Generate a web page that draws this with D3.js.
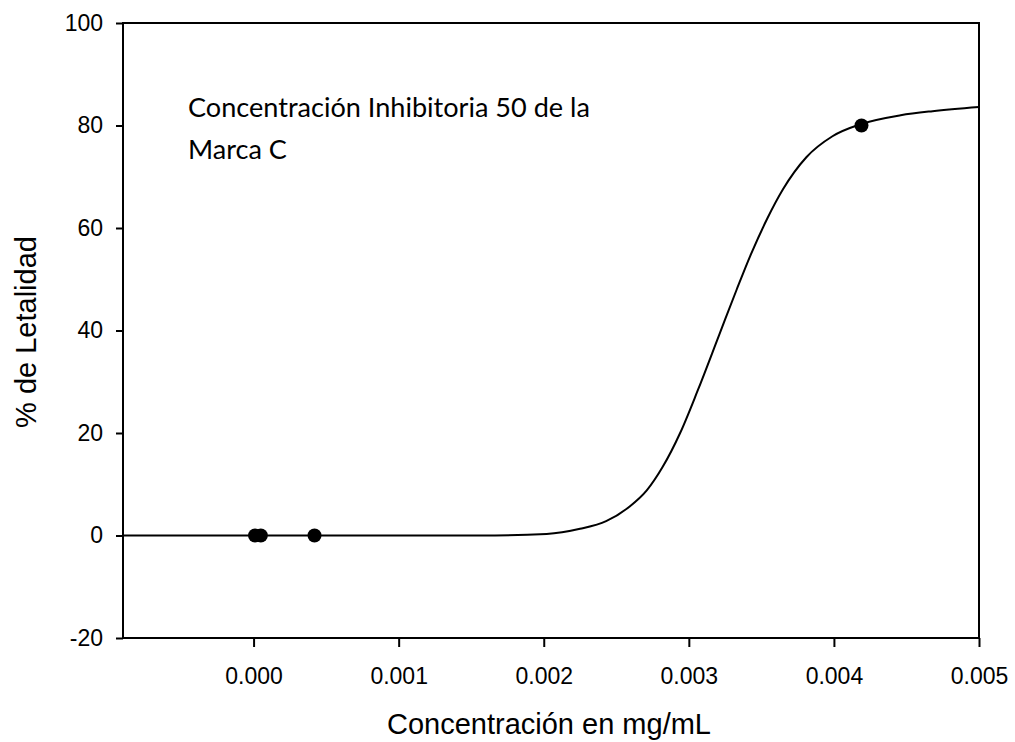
<!DOCTYPE html>
<html>
<head>
<meta charset="utf-8">
<script src="https://cdn.jsdelivr.net/npm/d3@7"></script>
<style>
  html, body { margin: 0; padding: 0; background: #fff; }
  svg { display: block; }
</style>
</head>
<body>
<svg id="chart" width="1015" height="742"></svg>
<script>
// ---- data ----
const xTicks = [0.000, 0.001, 0.002, 0.003, 0.004, 0.005];
const yTicks = [-20, 0, 20, 40, 60, 80, 100];
const pointX = [0.00001, 0.00005, 0.00042, 0.00419];
const pointY = [0, 0, 0, 80];
// fitted curve
const curveX = [-0.0009, 0.00156, 0.00202, 0.00225, 0.00243, 0.00259, 0.00271, 0.00282, 0.00294, 0.00306, 0.00321, 0.00333, 0.00343, 0.00354, 0.00365, 0.00381, 0.00399, 0.00419, 0.00446, 0.00468, 0.005];
const curveY = [0, 0, 0.3, 1.3, 2.8, 5.6, 8.8, 13.4, 20.0, 28.2, 39.2, 48.0, 55.0, 61.8, 67.6, 73.8, 77.9, 80.3, 82.0, 82.8, 83.6];
const xLabel = "Concentración en mg/mL";
const yLabel = "% de Letalidad";
const noteLines = ["Concentración Inhibitoria 50 de la", "Marca C"];

// ---- layout ----
const L = 123, R = 979, T = 23, B = 638;
const svg = d3.select("#chart");
const x = d3.scaleLinear().domain([-0.0009, 0.005]).range([L, R]);
const y = d3.scaleLinear().domain([-20, 100]).range([B, T]);

const axisFont = "'Liberation Sans', Arial, sans-serif";

// x axis
const gx = svg.append("g").attr("transform", `translate(0,${B})`)
  .call(d3.axisBottom(x).tickValues(xTicks).tickFormat(d3.format(".3f")).tickSizeInner(9).tickSizeOuter(0).tickPadding(21));
gx.select(".domain").remove();
gx.selectAll("line").attr("stroke", "#000").attr("stroke-width", 2);
gx.selectAll("text").attr("font-family", axisFont).attr("font-size", 23).attr("fill", "#000");

// y axis
const gy = svg.append("g").attr("transform", `translate(${L},0)`)
  .call(d3.axisLeft(y).tickValues(yTicks).tickFormat(d => String(d)).tickSizeInner(7).tickSizeOuter(0).tickPadding(13));
gy.select(".domain").remove();
gy.selectAll("line").attr("stroke", "#000").attr("stroke-width", 2);
gy.selectAll("text").attr("font-family", axisFont).attr("font-size", 23).attr("fill", "#000");

// frame
svg.append("rect").attr("x", L).attr("y", T).attr("width", R - L).attr("height", B - T)
  .attr("fill", "none").attr("stroke", "#000").attr("stroke-width", 2);

// curve
const curveData = curveX.map((d, i) => [d, curveY[i]]);
svg.append("path").datum(curveData)
  .attr("fill", "none").attr("stroke", "#000").attr("stroke-width", 2)
  .attr("d", d3.line().x(d => x(d[0])).y(d => y(d[1])).curve(d3.curveMonotoneX));

// points
svg.append("g").selectAll("circle").data(pointX.map((d, i) => [d, pointY[i]]))
  .join("circle")
  .attr("cx", d => x(d[0])).attr("cy", d => y(d[1])).attr("r", 7).attr("fill", "#000");

// axis titles
svg.append("text").attr("x", 549).attr("y", 734).attr("text-anchor", "middle")
  .attr("font-family", axisFont).attr("font-size", 29).attr("fill", "#000").text(xLabel);
svg.append("text").attr("transform", "translate(36,332) rotate(-90)").attr("text-anchor", "middle")
  .attr("font-family", axisFont).attr("font-size", 29).attr("fill", "#000").text(yLabel);

// note
const note = svg.append("text").attr("font-family", "Lato, 'Open Sans', sans-serif").attr("font-size", 29).attr("fill", "#000");
noteLines.forEach((t, i) => {
  note.append("tspan").attr("x", 188).attr("y", 117 + i * 42).text(t);
});
// fit first line to the reference width
const w0 = note.select("tspan").node().getComputedTextLength();
note.attr("font-size", 29 * 402 / w0);
</script>
</body>
</html>
